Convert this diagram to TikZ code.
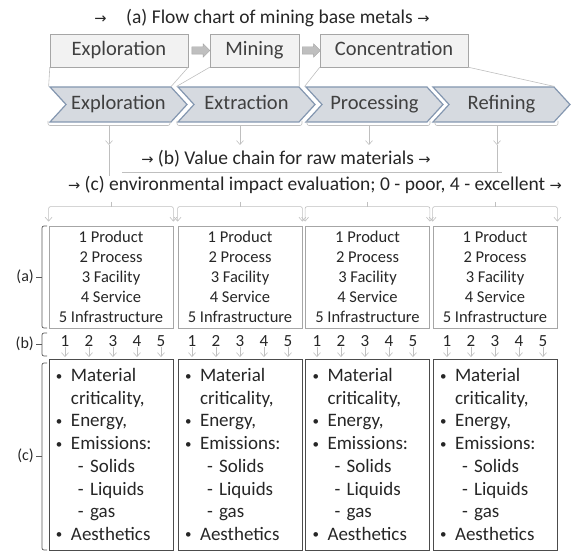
\documentclass[tikz,border=0pt]{standalone}
\usepackage{fontspec}
\setmainfont{Carlito}
\newfontfamily\arrowfont[Scale=0.75]{DejaVu Sans}
\usetikzlibrary{shapes.symbols,shapes.arrows,arrows.meta}
\definecolor{boxline}{HTML}{A6A6A6}
\definecolor{boxfill}{HTML}{F2F2F2}
\definecolor{chevfill}{HTML}{D6DAE0}
\definecolor{chevline}{HTML}{8497B0}
\definecolor{txt}{HTML}{262626}
\definecolor{lightline}{HTML}{BFBFBF}
\newcommand{\ra}{{\arrowfont →}}
\newcommand{\bul}{\makebox[15pt][l]{\raisebox{1.5pt}{\fontsize{13}{13}\selectfont\textbullet}}}
\newcommand{\sub}{\hspace*{22pt}- }
\tikzset{every node/.style={text=txt, inner sep=0pt},
  >={Straight Barb[length=4pt,width=7pt]},
  stage/.style={draw=boxline, fill=boxfill, minimum height=33pt, text height=14pt, text depth=4.5pt, text=black!75,
    font=\fontsize{20.5}{24}\selectfont},
  chev/.style={signal, signal from=west, signal to=east, signal pointer angle=95, draw=chevline, fill=chevfill,
    line width=1.2pt, minimum height=35pt, text height=14pt, text depth=4.5pt, text=black!75,
    font=\fontsize{20.5}{24}\selectfont},
  flow/.style={single arrow, draw=boxline, fill=lightline, inner sep=3.5pt, minimum height=18pt, single arrow head extend=3pt},
  link/.style={draw=lightline, line width=0.6pt},
  heading/.style={font=\fontsize{19.5}{23}\selectfont},
  levels/.style={draw=boxline, line width=0.8pt, minimum width=124pt, minimum height=102pt, align=center,
    font=\fontsize{16.5}{20}\selectfont},
  impact/.style={draw=black!70, line width=0.9pt, minimum width=124pt, minimum height=191pt, text width=110pt,
    align=left, font=\fontsize{19}{22.7}\selectfont},
  num/.style={font=\fontsize{17}{20}\selectfont},
  bracket/.style={draw=black!65, line width=0.7pt, rounded corners=2pt},
  tag/.style={font=\fontsize{16}{19}\selectfont}}

\begin{document}
\begin{tikzpicture}[x=1pt,y=-1pt]
  \useasboundingbox (0,0) rectangle (571,553);
  \node[heading] (ta) at (262,18) {\ra\quad(a) Flow chart of mining base metals \ra};

  \node[stage, minimum width=138pt] (bx1) at (119,50.5) {Exploration};
  \node[stage, minimum width=89pt] (bx2) at (254.5,50.5) {Mining};
  \node[stage, minimum width=148pt] (bx3) at (394,50.5) {Concentration};
  \node[flow] (ar1) at (199,50.5) {};
  \node[flow] (ar2) at (309.5,50.5) {};

  \node[chev, minimum width=137pt] (ch1) at (118.5,104.5) {Exploration};
  \node[chev, minimum width=137pt] (ch2) at (246.5,104.5) {Extraction};
  \node[chev, minimum width=137pt] (ch3) at (374.5,104.5) {Processing};
  \node[chev, minimum width=137pt] (ch4) at (501.5,104.5) {Refining};

  \draw[link] (bx1.south west) -- (ch1.north west) (bx1.south east) -- (ch1.north east);
  \draw[link] (bx2.south west) -- (ch2.north west) (bx2.south east) -- (ch2.north east);
  \draw[link] (bx3.south west) -- (ch3.north west) (bx3.south east) -- (ch4.north east);

  \foreach \c/\l/\m/\r in {1/48/109/170, 2/177/240/302, 3/307/369/430, 4/435/497/558} {
    \draw[link, rounded corners=2pt] (\l,121) -- (\l,125.5) -- (\r,125.5) -- (\r,121);
    \draw[link, ->] (\m,125.5) -- (\m,145);
  }

  \node[heading] (tb) at (286,159) {\ra\ (b) Value chain for raw materials \ra};
  \node[heading] (tc) at (315,185) {\ra\ (c) environmental impact evaluation; 0 - poor, 4 - excellent \ra};
  \draw[link] (109,145) -- (tc.north -| 109,0);
  \draw[link] (497,145) -- (497,172) (122,172) -- (502,172);

  \foreach \c/\x in {1/111, 2/240, 3/367.5, 4/495} {
    \node[levels] (p\c) at (\x,277) {1 Product\\2 Process\\3 Facility\\4 Service\\5 Infrastructure};
    \node[impact] (e\c) at (\x,454.5) {\bul Material\\\hspace*{15pt}criticality,\\\bul Energy,\\\bul Emissions:\\
      \sub Solids\\\sub Liquids\\\sub gas\\\bul Aesthetics};
    \draw[link] (p\c.north |- 0,202) -- (p\c.north |- 0,207);
    \draw[link, <->, rounded corners=2pt] ([yshift=4pt]p\c.north west) -- ([yshift=19pt]p\c.north west)
      -- ([yshift=19pt]p\c.north east) -- ([yshift=4pt]p\c.north east);
  }

  \foreach \c/\x in {1/65, 2/192, 3/317, 4/447}
    \foreach \k in {1,...,5} {
      \node[num] (n\c-\k) at ({\x+24*(\k-1)},341) {\k};
      \draw[link, ->, shorten >=1.5pt] (n\c-\k.south) -- (n\c-\k.south |- e\c.north);
    }

  \node[tag, anchor=east] (la) at (34,277) {(a)};
  \node[tag, anchor=east] (lb) at (34,344) {(b)};
  \node[tag, anchor=east] (lc) at (34,456) {(c)};
  \draw[bracket] (47,226) -- (42,226) -- (42,328) -- (47,328);
  \draw[bracket] (47,333) -- (42,333) -- (42,356) -- (47,356);
  \draw[bracket] (47,363) -- (42,363) -- (42,550) -- (47,550);
  \draw[bracket] ([xshift=2pt]la.east) -- (42,277);
  \draw[bracket] ([xshift=2pt]lb.east) -- (42,344);
  \draw[bracket] ([xshift=2pt]lc.east) -- (42,456);
\end{tikzpicture}
\end{document}
